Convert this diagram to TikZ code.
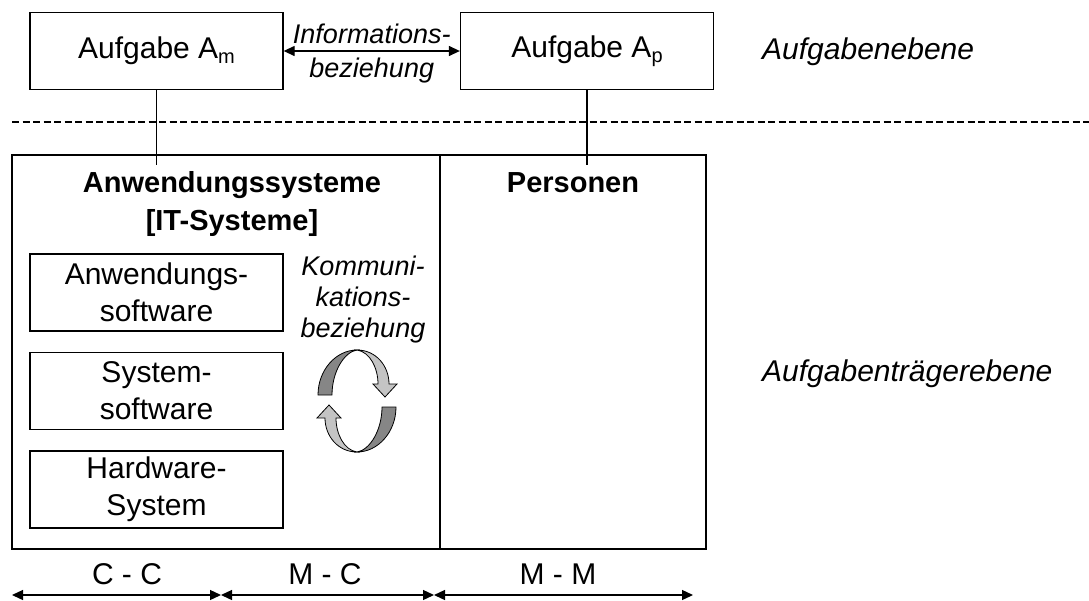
\documentclass[tikz,border=0pt]{standalone}
\usepackage{fontspec}
\setmainfont{Liberation Sans}
\usetikzlibrary{arrows.meta}
\definecolor{ribdark}{RGB}{134,134,134}
\definecolor{riblight}{RGB}{196,196,196}
\newcommand{\idx}[1]{\raisebox{-5pt}{\fontsize{20}{20}\selectfont #1}}
\begin{document}
\begin{tikzpicture}[x=1pt,y=-1pt,
  frame/.style={draw,line width=1.3pt,inner sep=0pt},
  regular/.style={font=\fontsize{30}{37}\selectfont,align=center,inner sep=0pt},
  heading/.style={font=\bfseries\fontsize{29}{36}\selectfont,inner sep=0pt,anchor=base},
  slanted/.style={font=\itshape\fontsize{27}{31}\selectfont,align=center,inner sep=0pt},
  level/.style={font=\itshape\fontsize{30}{36}\selectfont,inner sep=0pt,anchor=base west},
  task/.style={frame,regular,minimum width=253pt,minimum height=77pt},
  layer/.style={frame,regular,minimum width=253pt,minimum height=77pt},
  link/.style={line width=1.3pt},
  span/.style={line width=1.3pt,{Triangle[length=11pt,width=10pt]}-{Triangle[length=11pt,width=10pt]}},
  ribbon/.style={line width=0.8pt,draw=black},
]
\useasboundingbox (0,0) rectangle (1089,600);

% task level
\node[task] (Am) at (156.5,51) {Aufgabe A\idx{m}};
\node[task] (Ap) at (587,51) {Aufgabe A\idx{p}};
\draw[span] (Am.east) -- node[slanted,above=7pt] (info1) {Informations-}
                         node[slanted,below=6pt] (info2) {beziehung} (Ap.west);
\node[level] (lvlA) at (762,59) {Aufgabenebene};

% separator between the two levels
\coordinate (sepL) at (12,122);
\coordinate (sepR) at (1089,122);
\draw[line width=1.6pt,dash pattern=on 7pt off 3.5pt] (sepL) -- (sepR);

% carrier level
\node[frame,minimum width=428pt,minimum height=394pt] (AS) at (226,352) {};
\node[frame,minimum width=266pt,minimum height=394pt] (PS) at (573,352) {};
\node[heading] (asT1) at (232,192) {Anwendungssysteme};
\node[heading] (asT2) at (232,230) {[IT-Systeme]};
\node[heading] (psT) at (573,192) {Personen};

\coordinate (amEnd) at (156.5,165);
\coordinate (apEnd) at (587,165);
\draw[link] (Am.south) -- (amEnd);
\draw[link] (Ap.south) -- (apEnd);

\node[layer] (sw1) at (156.5,292.5) {Anwendungs-\\software};
\node[layer] (sw2) at (156.5,391) {System-\\software};
\node[layer] (hw) at (156.5,489.5) {Hardware-\\System};

\node[slanted] (komm) at (363,300) {Kommuni-\\kations-\\beziehung};
\node[level] (lvlB) at (762,381) {Aufgabenträgerebene};

% circular arrows
\begin{scope}
  \filldraw[ribbon,fill=ribdark] (318,395) .. controls (318,370) and (336,350) .. (357,350)
     .. controls (344,352) and (332,372) .. (332,395) -- cycle;
  \filldraw[ribbon,fill=riblight] (357,350) .. controls (376,350) and (389,366) .. (389,384)
     -- (397,384) -- (385,397) -- (373,384) -- (378,384)
     .. controls (378,368) and (370,352) .. (357,350) -- cycle;
\end{scope}
\begin{scope}[rotate around={180:(357,401)}]
  \filldraw[ribbon,fill=ribdark] (318,395) .. controls (318,370) and (336,350) .. (357,350)
     .. controls (344,352) and (332,372) .. (332,395) -- cycle;
  \filldraw[ribbon,fill=riblight] (357,350) .. controls (376,350) and (389,366) .. (389,384)
     -- (397,384) -- (385,397) -- (373,384) -- (378,384)
     .. controls (378,368) and (370,352) .. (357,350) -- cycle;
\end{scope}

% interaction spans
\node[regular] (cc) at (127,574) {C - C};
\node[regular] (mc) at (325,574) {M - C};
\node[regular] (mm) at (558,574) {M - M};
\coordinate (b0) at (12,595);
\coordinate (b1) at (221,595);
\coordinate (b2) at (434,595);
\coordinate (b3) at (693,595);
\draw[span] (b0) -- (b1);
\draw[span] (b1) -- (b2);
\draw[span] (b2) -- (b3);
\end{tikzpicture}
\end{document}
